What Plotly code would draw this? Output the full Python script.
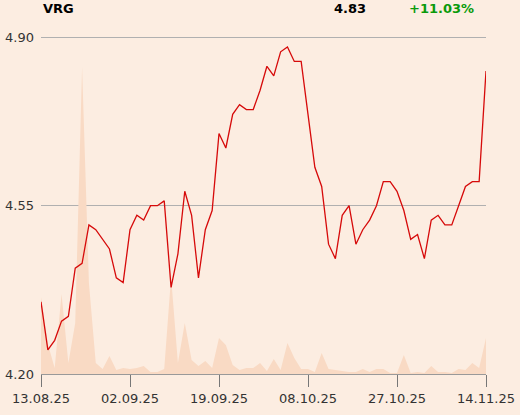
import plotly.graph_objects as go

dates = [
    "13.08.25", "14.08.25", "18.08.25", "19.08.25", "20.08.25", "21.08.25", "22.08.25",
    "25.08.25", "26.08.25", "27.08.25", "28.08.25", "29.08.25",
    "01.09.25", "02.09.25", "03.09.25", "04.09.25", "05.09.25", "08.09.25", "09.09.25",
    "10.09.25", "11.09.25", "12.09.25", "15.09.25", "16.09.25", "17.09.25", "18.09.25",
    "19.09.25", "22.09.25", "23.09.25", "24.09.25", "25.09.25", "26.09.25", "29.09.25",
    "30.09.25",
    "01.10.25", "02.10.25", "03.10.25", "06.10.25", "07.10.25", "08.10.25", "09.10.25",
    "10.10.25", "13.10.25", "14.10.25", "15.10.25", "16.10.25", "17.10.25", "20.10.25",
    "21.10.25", "22.10.25", "23.10.25", "24.10.25", "27.10.25", "28.10.25", "29.10.25",
    "30.10.25", "31.10.25",
    "03.11.25", "04.11.25", "05.11.25", "06.11.25", "07.11.25", "10.11.25", "12.11.25",
    "13.11.25", "14.11.25",
]

price = [
    4.35, 4.25, 4.27, 4.31, 4.32, 4.42, 4.43, 4.51, 4.50, 4.48, 4.46, 4.40, 4.39,
    4.50, 4.53, 4.52, 4.55, 4.55, 4.56, 4.38, 4.45, 4.58, 4.53, 4.40, 4.50, 4.54,
    4.70, 4.67, 4.74, 4.76, 4.75, 4.75, 4.79, 4.84, 4.82, 4.87, 4.88, 4.85, 4.85,
    4.74, 4.63, 4.59, 4.47, 4.44, 4.53, 4.55, 4.47, 4.50, 4.52, 4.55, 4.60, 4.60,
    4.58, 4.54, 4.48, 4.49, 4.44, 4.52, 4.53, 4.51, 4.51, 4.55, 4.59, 4.60, 4.60,
    4.83,
]

volume = [
    77000, 30000, 6000, 80000, 11000, 51000, 307000, 91000, 11000, 5000, 18000, 4000,
    6000, 5000, 6000, 8000, 2000, 2000, 5000, 97000, 11000, 51000, 14000, 8000,
    13000, 6000, 36000, 29000, 9000, 4000, 6000, 6000, 11000, 3000, 15000, 4000,
    31000, 16000, 5000, 5000, 2000, 21000, 5000, 4000, 3000, 2000, 2000, 5000,
    2000, 5000, 5000, 1000, 1000, 19000, 1000, 2000, 1000, 8000, 2000, 2000,
    1000, 5000, 4000, 11000, 6000, 36000,
]

tick_dates = ["13.08.25", "02.09.25", "19.09.25", "08.10.25", "27.10.25", "14.11.25"]
price_ticks = [4.20, 4.55, 4.90]

ticker = "VRG"
last_price = "4.83"
change = "+11.03%"

BG = "#fcede1"
fig = go.Figure()

fig.add_trace(go.Scatter(
    x=dates, y=volume, mode="lines", fill="tozeroy",
    line=dict(width=0, color="#f8d9c3"), fillcolor="#f9dac4",
    yaxis="y", hoverinfo="skip", showlegend=False,
))
fig.add_trace(go.Scatter(
    x=dates, y=price, mode="lines",
    line=dict(width=1.3, color="#d60a0a"),
    yaxis="y2", showlegend=False,
))

fig.update_layout(
    width=520, height=415,
    margin=dict(l=41, r=34, t=35, b=41, autoexpand=False),
    paper_bgcolor=BG, plot_bgcolor=BG,
    font=dict(family="DejaVu Sans", size=13, color="#333333"),
    xaxis=dict(
        type="category", categoryorder="array", categoryarray=dates,
        range=[0, len(dates) - 1], automargin=False,
        tickvals=tick_dates, ticktext=tick_dates,
        showgrid=False, zeroline=False,
        showline=True, linecolor="#999999", linewidth=1,
        ticks="outside", ticklen=12, tickcolor="#777777", tickwidth=1,
        tickfont=dict(size=13, color="#333333"),
    ),
    yaxis=dict(
        range=[0, 339000], visible=False, fixedrange=True,
    ),
    yaxis2=dict(
        overlaying="y", side="left", automargin=False,
        range=[4.20, 4.905], tickvals=price_ticks,
        ticktext=[f"{v:.2f}" for v in price_ticks],
        showgrid=True, gridcolor="#b0b0b0", gridwidth=1,
        zeroline=False, showline=False, ticks="",
        ticklabelstandoff=6,
        tickfont=dict(size=13, color="#333333"),
    ),
    annotations=[
        dict(text=f"<b>{ticker}</b>", xref="paper", yref="paper", x=0, y=1.077,
             xanchor="left", yanchor="middle", showarrow=False,
             font=dict(size=13, color="#000000")),
        dict(text=f"<b>{last_price}</b>", xref="paper", yref="paper", x=0.654, y=1.077,
             xanchor="left", yanchor="middle", showarrow=False,
             font=dict(size=13, color="#000000")),
        dict(text=f"<b>{change}</b>", xref="paper", yref="paper", x=0.8225, y=1.077,
             xanchor="left", yanchor="middle", showarrow=False,
             font=dict(size=13, color="#0a9a0a")),
    ],
)

fig.write_html(
    "out.html",
    config={"displayModeBar": False},
    post_script="document.body.style.margin='0px';document.body.style.background='" + BG + "';",
)
